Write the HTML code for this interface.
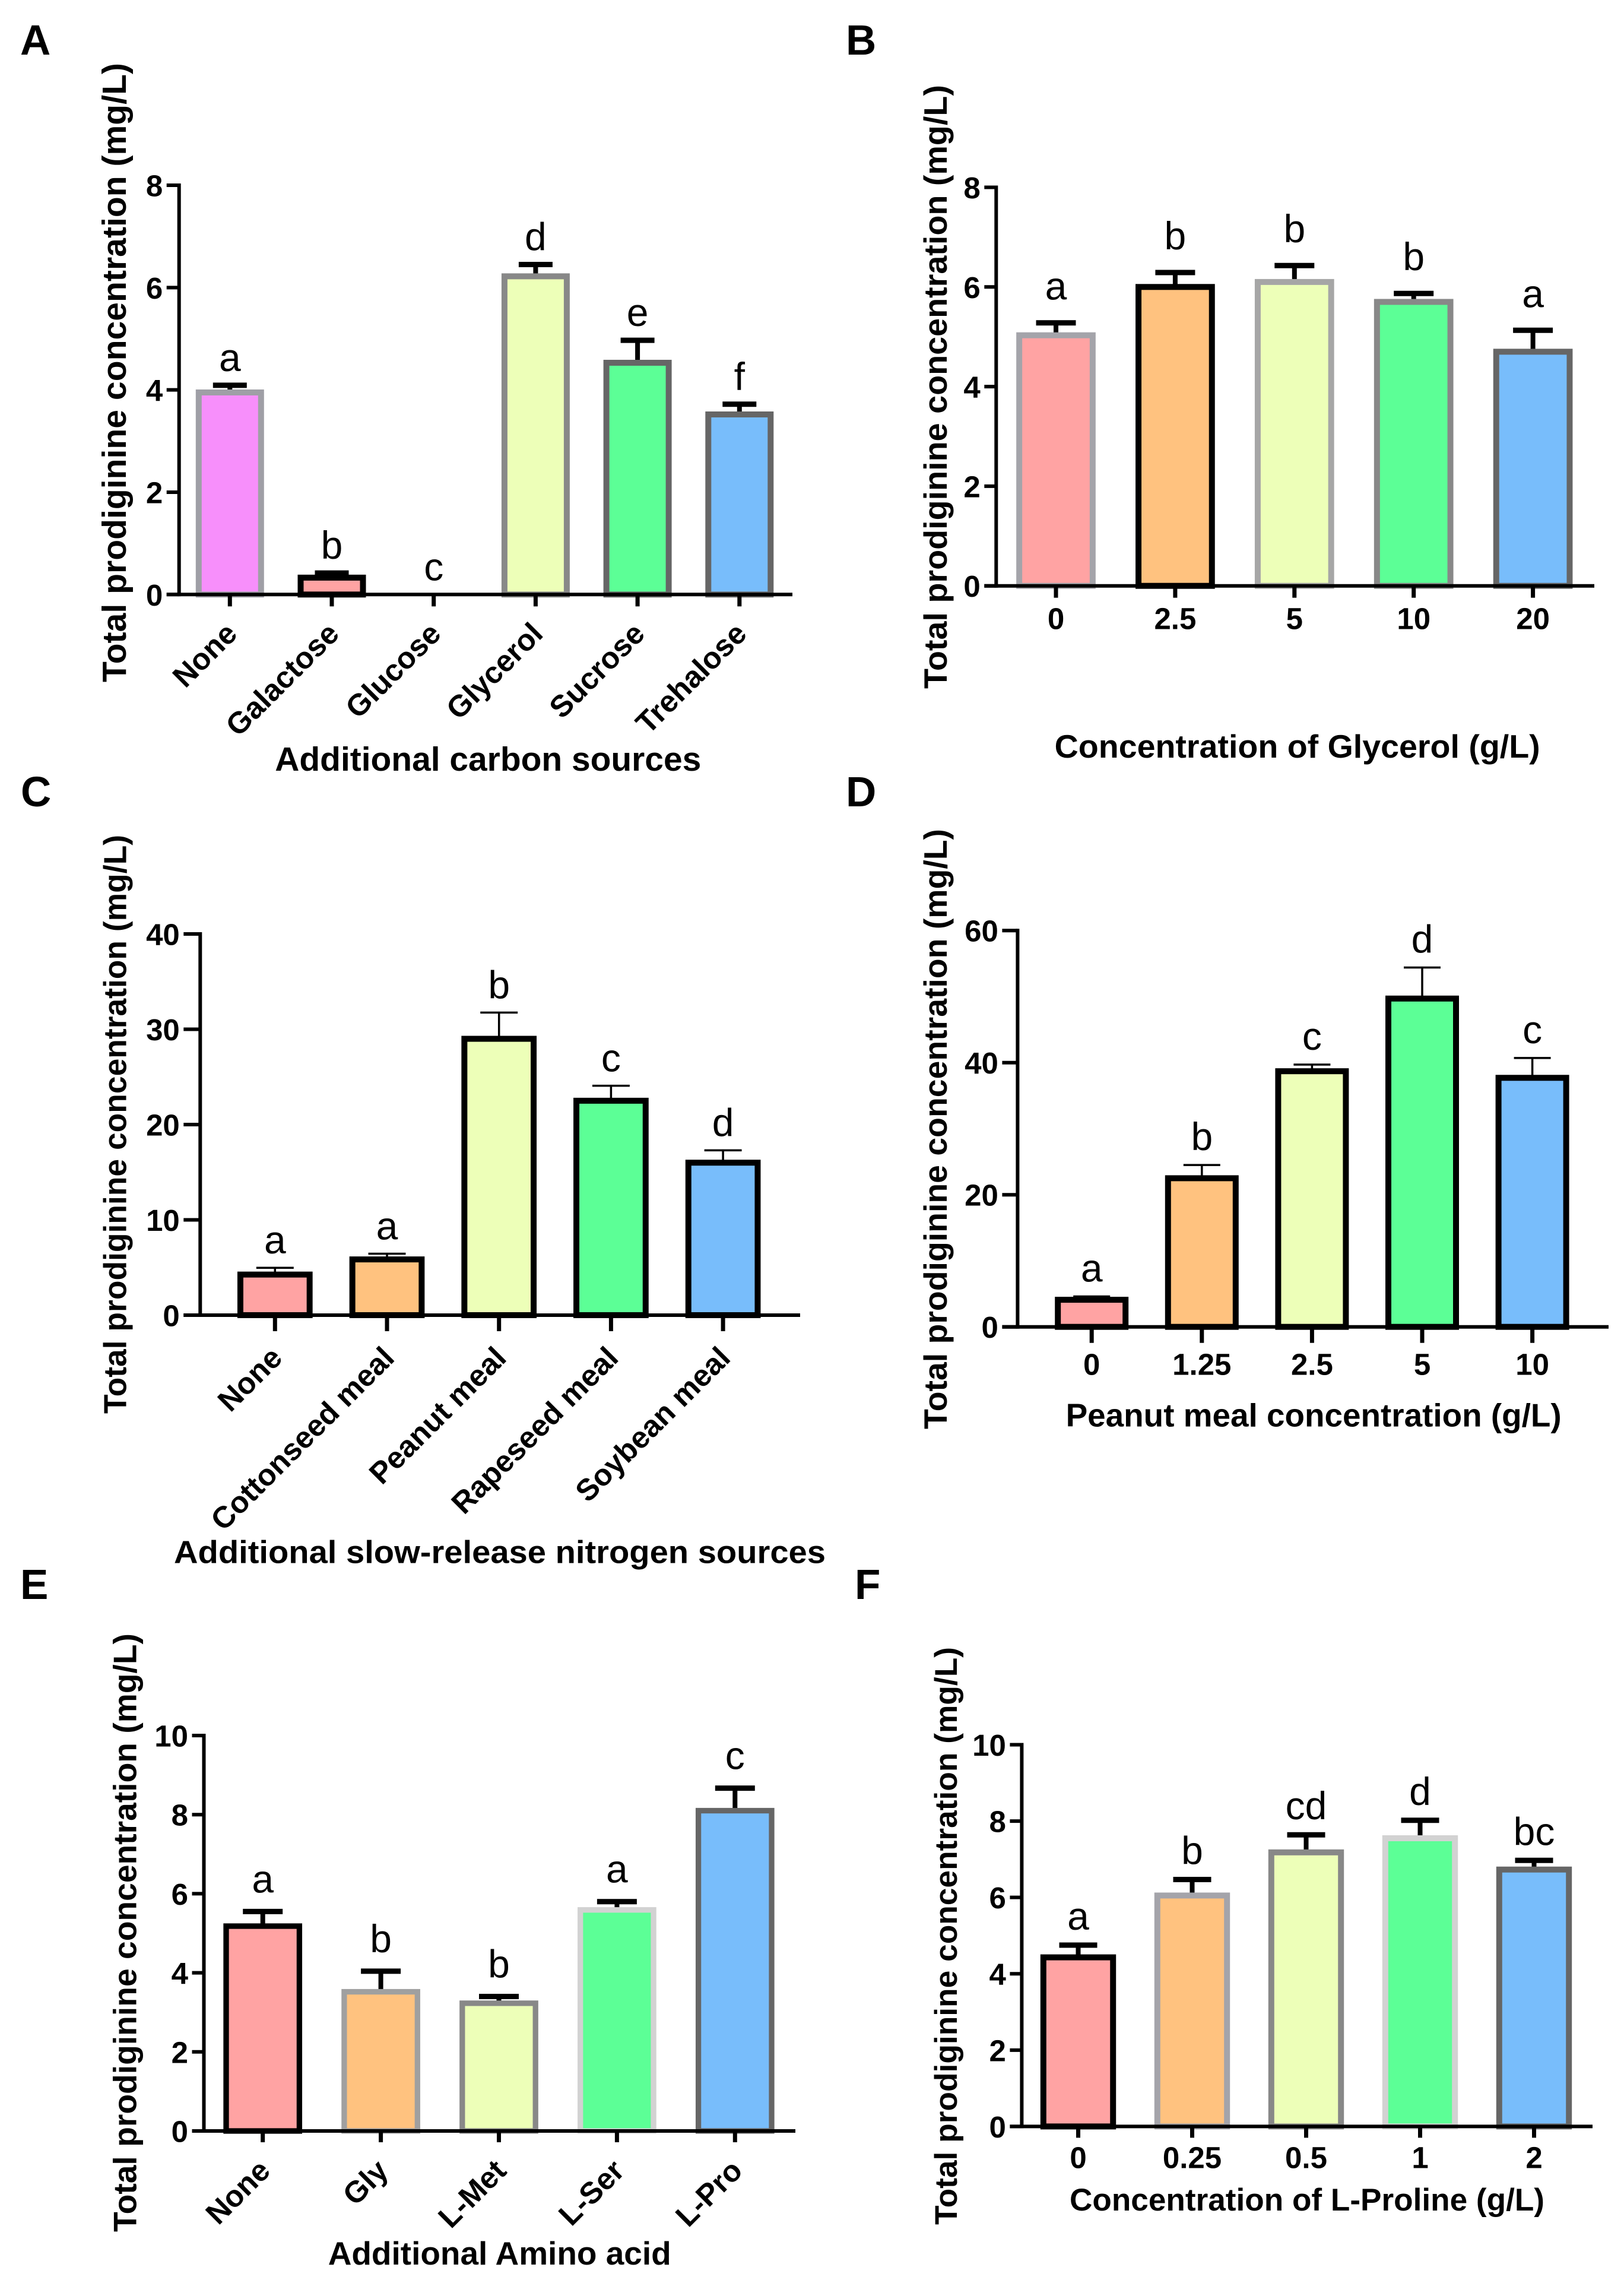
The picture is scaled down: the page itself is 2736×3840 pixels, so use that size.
<!DOCTYPE html>
<html lang="en">
<head>
<meta charset="utf-8">
<title>Total prodiginine concentration panels</title>
<style>
html,body{margin:0;padding:0;background:#fff;}
svg{display:block;}
text{font-family:"Liberation Sans",sans-serif;fill:#000;}
.panel-letter{font-weight:700;font-size:71px;}
.axis-title{font-weight:700;font-size:55px;}
.tick{font-weight:700;font-size:51px;}
.sig{font-weight:400;font-size:66px;text-anchor:middle;}
</style>
</head>
<body>
<svg id="figure" width="2736" height="3840" viewBox="0 0 2736 3840" xmlns="http://www.w3.org/2000/svg">
  <rect width="2736" height="3840" fill="#fff"/>

  <g id="panel-a">
    <text class="panel-letter" x="34" y="92">A</text>
    <text class="axis-title" style="font-size:57px" transform="translate(212 1149) rotate(-90)" textLength="1043" lengthAdjust="spacingAndGlyphs">Total prodiginine concentration (mg/L)</text>
    <text class="axis-title" style="font-size:57px" x="463.3" y="1298" textLength="718" lengthAdjust="spacingAndGlyphs">Additional carbon sources</text>
  </g>
  <g id="panel-b">
    <text class="panel-letter" x="1425" y="92">B</text>
    <text class="axis-title" transform="translate(1595 1160) rotate(-90)" textLength="1017" lengthAdjust="spacingAndGlyphs">Total prodiginine concentration (mg/L)</text>
    <text class="axis-title" x="1776.7" y="1276" textLength="818" lengthAdjust="spacingAndGlyphs">Concentration of Glycerol (g/L)</text>
  </g>
  <g id="panel-c">
    <text class="panel-letter" x="35" y="1358">C</text>
    <text class="axis-title" style="font-size:54px" transform="translate(212.5 2381) rotate(-90)" textLength="975" lengthAdjust="spacingAndGlyphs">Total prodiginine concentration (mg/L)</text>
    <text class="axis-title" style="font-size:54px" x="293" y="2632.7" textLength="1098" lengthAdjust="spacingAndGlyphs">Additional slow-release nitrogen sources</text>
  </g>
  <g id="panel-d">
    <text class="panel-letter" x="1425" y="1358">D</text>
    <text class="axis-title" transform="translate(1595 2407) rotate(-90)" textLength="1011" lengthAdjust="spacingAndGlyphs">Total prodiginine concentration (mg/L)</text>
    <text class="axis-title" x="1795.6" y="2402.6" textLength="835" lengthAdjust="spacingAndGlyphs">Peanut meal concentration (g/L)</text>
  </g>
  <g id="panel-e">
    <text class="panel-letter" x="34" y="2693">E</text>
    <text class="axis-title" transform="translate(229.3 3759) rotate(-90)" textLength="1008" lengthAdjust="spacingAndGlyphs">Total prodiginine concentration (mg/L)</text>
    <text class="axis-title" x="552.7" y="3814" textLength="578" lengthAdjust="spacingAndGlyphs">Additional Amino acid</text>
  </g>
  <g id="panel-f">
    <text class="panel-letter" x="1440" y="2693">F</text>
    <text class="axis-title" style="font-size:53px" transform="translate(1612 3747) rotate(-90)" textLength="973" lengthAdjust="spacingAndGlyphs">Total prodiginine concentration (mg/L)</text>
    <text class="axis-title" style="font-size:53px" x="1802" y="3723" textLength="800" lengthAdjust="spacingAndGlyphs">Concentration of L-Proline (g/L)</text>
  </g>
</svg>
<script>
// Panel A data
const aCategories = ["None", "Galactose", "Glucose", "Glycerol", "Sucrose", "Trehalose"];
const aValues = [3.95, 0.33, 0, 6.22, 4.53, 3.52];
const aErrors = [0.14, 0.09, 0, 0.23, 0.44, 0.20];
const aLetters = ["a", "b", "c", "d", "e", "f"];
const aTicks = [0, 2, 4, 6, 8];
const aFills = ["#f78ffb", "#ffa3a3", "#ffffff", "#edffb8", "#5cff96", "#78bdfb"];
const aStrokes = ["#9f9fa6", "#000000", "#000000", "#888888", "#666666", "#666666"];

// Panel B data
const bCategories = ["0", "2.5", "5", "10", "20"];
const bValues = [5.03, 6.0, 6.1, 5.7, 4.7];
const bErrors = [0.25, 0.29, 0.33, 0.17, 0.43];
const bLetters = ["a", "b", "b", "b", "a"];
const bTicks = [0, 2, 4, 6, 8];
const bFills = ["#ffa3a3", "#ffc27f", "#edffb8", "#5cff96", "#78bdfb"];
const bStrokes = ["#a4a4aa", "#000000", "#a6a6a6", "#888888", "#666666"];

// Panel C data
const cCategories = ["None", "Cottonseed meal", "Peanut meal", "Rapeseed meal", "Soybean meal"];
const cValues = [4.26, 5.85, 29.0, 22.5, 16.0];
const cErrors = [0.71, 0.6, 2.75, 1.57, 1.3];
const cLetters = ["a", "a", "b", "c", "d"];
const cTicks = [0, 10, 20, 30, 40];
const cFills = ["#ffa3a3", "#ffc27f", "#edffb8", "#5cff96", "#78bdfb"];
const cStrokes = ["#000000", "#000000", "#000000", "#000000", "#000000"];

// Panel D data
const dCategories = ["0", "1.25", "2.5", "5", "10"];
const dValues = [4.1, 22.5, 38.7, 49.7, 37.7];
const dErrors = [0.5, 2.0, 1.0, 4.7, 3.0];
const dLetters = ["a", "b", "c", "d", "c"];
const dTicks = [0, 20, 40, 60];
const dFills = ["#ffa3a3", "#ffc27f", "#edffb8", "#5cff96", "#78bdfb"];
const dStrokes = ["#000000", "#000000", "#000000", "#000000", "#000000"];

// Panel E data
const eCategories = ["None", "Gly", "L-Met", "L-Ser", "L-Pro"];
const eValues = [5.18, 3.52, 3.23, 5.59, 8.1];
const eErrors = [0.37, 0.52, 0.17, 0.21, 0.57];
const eLetters = ["a", "b", "b", "a", "c"];
const eTicks = [0, 2, 4, 6, 8, 10];
const eFills = ["#ffa3a3", "#ffc27f", "#edffb8", "#5cff96", "#78bdfb"];
const eStrokes = ["#000000", "#a0a0a0", "#888888", "#d2d2d2", "#666666"];

// Panel F data
const fCategories = ["0", "0.25", "0.5", "1", "2"];
const fValues = [4.43, 6.05, 7.18, 7.55, 6.73];
const fErrors = [0.32, 0.42, 0.46, 0.47, 0.24];
const fLetters = ["a", "b", "cd", "d", "bc"];
const fTicks = [0, 2, 4, 6, 8, 10];
const fFills = ["#ffa3a3", "#ffc27f", "#edffb8", "#5cff96", "#78bdfb"];
const fStrokes = ["#000000", "#a4a4aa", "#888888", "#d2d2d2", "#666666"];

const SVGNS = "http://www.w3.org/2000/svg";

function make(tag, parent, attrs) {
  const el = document.createElementNS(SVGNS, tag);
  for (const k in attrs) el.setAttribute(k, attrs[k]);
  parent.appendChild(el);
  return el;
}

function drawPanel(id, cats, vals, errs, letters, ticks, fills, strokes, o) {
  const root = document.getElementById(id);
  const yMax = ticks[ticks.length - 1];
  const yScale = function (v) { return o.y0 - (v / yMax) * (o.y0 - o.yTop); };
  const xScale = function (i) { return o.first + i * o.step; };

  cats.forEach(function (cat, i) {
    const cx = xScale(i);
    const top = yScale(vals[i]);

    if (errs[i] > 0) {
      const capY = yScale(vals[i] + errs[i]);
      const stem = make("line", root, { x1: cx, x2: cx, y1: top, y2: capY, stroke: "#000", "stroke-width": o.errW });
      
      
      const cap = make("line", root, { x1: cx - o.capW / 2, x2: cx + o.capW / 2, y1: capY, y2: capY, stroke: "#000", "stroke-width": o.capT });
      
      
    }

    if (vals[i] > 0) {
      const bar = make("rect", root, {
        x: cx - o.barW / 2, y: top, width: o.barW, height: o.y0 - top,
        fill: fills[i], stroke: strokes[i], "stroke-width": o.barS
      });
      
      
    }

    const topRef = yScale(vals[i] + errs[i]);
    const sig = make("text", root, { x: cx, y: topRef - o.gap, class: "sig" });
    sig.textContent = letters[i];
    
    

    const tick = make("line", root, { x1: cx, x2: cx, y1: o.y0, y2: o.y0 + o.xTick, stroke: "#000", "stroke-width": o.tickW });
    
    

    let label;
    if (o.rot) {
      const lx = cx + o.labelDx, ly = o.y0 + o.labelDy;
      label = make("text", root, { class: "tick", "text-anchor": "end", transform: "translate(" + lx + " " + ly + ") rotate(-45)" });
    } else {
      label = make("text", root, { class: "tick", "text-anchor": "middle", x: cx, y: o.y0 + o.labelDy });
    }
    label.textContent = cat;
    
    
  });

  const yAxis = make("line", root, { x1: o.axisX, x2: o.axisX, y1: o.yTop - o.axisW / 2, y2: o.y0 + o.axisW / 2, stroke: "#000", "stroke-width": o.axisW });
  
  
  const xAxis = make("line", root, { x1: o.axisX - o.yTick, x2: o.right, y1: o.y0, y2: o.y0, stroke: "#000", "stroke-width": o.axisW });
  
  

  ticks.forEach(function (t) {
    const y = yScale(t);
    const tk = make("line", root, { x1: o.axisX - o.yTick, x2: o.axisX, y1: y, y2: y, stroke: "#000", "stroke-width": o.axisW });
    
    
    const lb = make("text", root, { class: "tick", "text-anchor": "end", x: o.axisX - o.yTick - 6.5, y: y + 18.5 });
    lb.textContent = String(t);
    
    
  });
}

drawPanel("panel-a", aCategories, aValues, aErrors, aLetters, aTicks, aFills, aStrokes,
  { axisX: 301.7, y0: 1001.3, yTop: 312, right: 1335, first: 387.3, step: 171.7, barW: 105, barS: 10, capW: 57, capT: 9, errW: 8, gap: 24, yTick: 21, xTick: 20, axisW: 6, tickW: 7, rot: true, labelDx: 15, labelDy: 69 });
drawPanel("panel-b", bCategories, bValues, bErrors, bLetters, bTicks, bFills, bStrokes,
  { axisX: 1678.3, y0: 986.7, yTop: 315.5, right: 2686, first: 1779, step: 200.9, barW: 123.7, barS: 10, capW: 67, capT: 9, errW: 8, gap: 39, yTick: 20, xTick: 20, axisW: 6, tickW: 7, rot: false, labelDy: 73 });
drawPanel("panel-c", cCategories, cValues, cErrors, cLetters, cTicks, cFills, cStrokes,
  { axisX: 337.3, y0: 2215, yTop: 1573, right: 1348, first: 463.3, step: 188.7, barW: 116.7, barS: 10, capW: 63, capT: 3.5, errW: 3.5, gap: 24, yTick: 28, xTick: 27, axisW: 6, tickW: 7, rot: true, labelDx: 15, labelDy: 75 });
drawPanel("panel-d", dCategories, dValues, dErrors, dLetters, dTicks, dFills, dStrokes,
  { axisX: 1714.4, y0: 2234.7, yTop: 1567.2, right: 2710, first: 1839.2, step: 185.6, barW: 114, barS: 10, capW: 62, capT: 3.5, errW: 3.5, gap: 25, yTick: 26, xTick: 27, axisW: 6, tickW: 7, rot: false, labelDy: 81 });
drawPanel("panel-e", eCategories, eValues, eErrors, eLetters, eTicks, eFills, eStrokes,
  { axisX: 343.5, y0: 3589, yTop: 2923, right: 1340, first: 442.7, step: 198.9, barW: 123.4, barS: 9.3, capW: 67, capT: 9, errW: 8, gap: 32, yTick: 20, xTick: 19, axisW: 6, tickW: 7, rot: true, labelDx: 15.3, labelDy: 70 });
drawPanel("panel-f", fCategories, fValues, fErrors, fLetters, fTicks, fFills, fStrokes,
  { axisX: 1721.4, y0: 3581.4, yTop: 2938.5, right: 2683, first: 1816.5, step: 192, barW: 117.4, barS: 10, capW: 64, capT: 9, errW: 8, gap: 26, yTick: 20, xTick: 19, axisW: 6, tickW: 7, rot: false, labelDy: 70 });
</script>
</body>
</html>
